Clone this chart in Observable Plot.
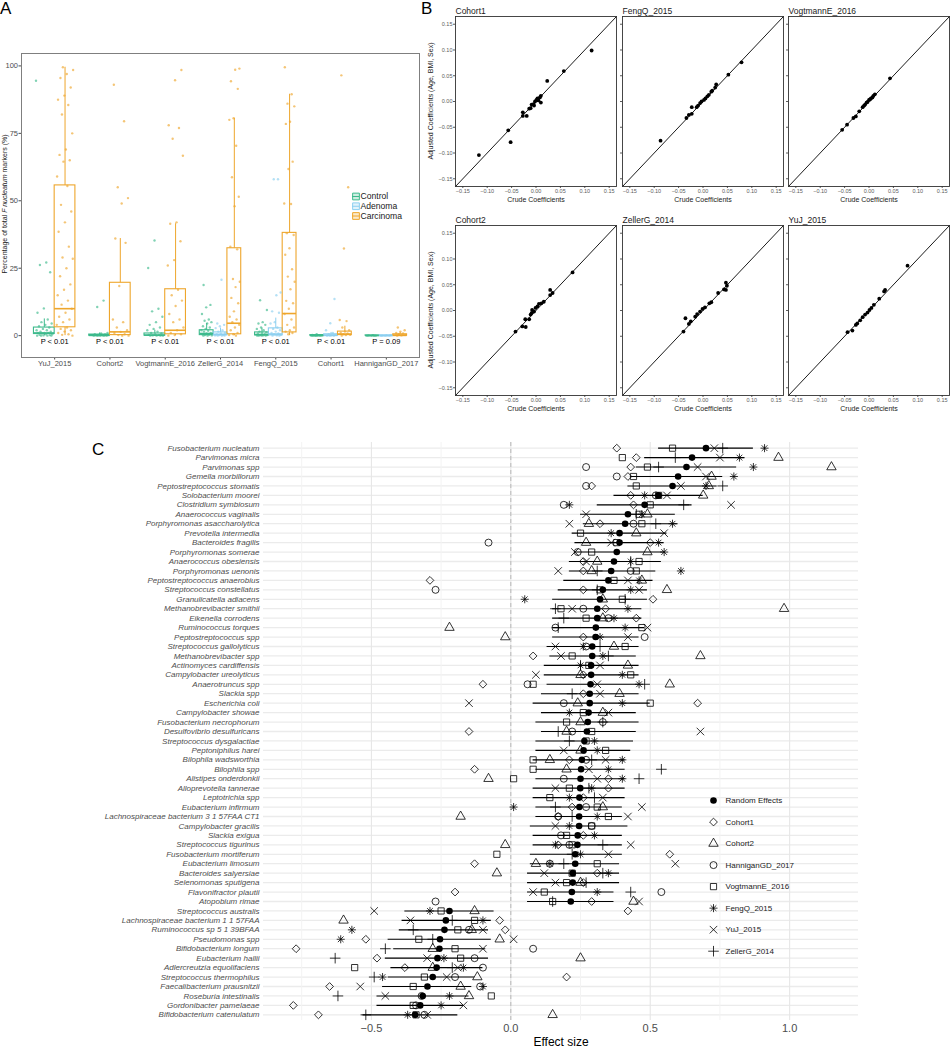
<!DOCTYPE html>
<html><head><meta charset="utf-8">
<script src="https://cdn.jsdelivr.net/npm/d3@7"></script>
<script src="https://cdn.jsdelivr.net/npm/@observablehq/plot@0.6"></script>
<style>
body{margin:0;background:#fff;font-family:"Liberation Sans",Arial,Helvetica,sans-serif;}
#root{position:relative;width:950px;height:1050px;overflow:hidden;background:#fff;}
.tag{position:absolute;font-size:17px;color:#000;line-height:1;}
.vlab{position:absolute;white-space:nowrap;transform:translate(-50%,-50%) rotate(-90deg);color:#1a1a1a;line-height:1;}
.cplot g[aria-label="y-axis tick label"]{font-style:italic;}
</style></head><body><div id="root"></div>
<script>
const FONT = '"Liberation Sans", Arial, Helvetica, sans-serif';
// ---------------- Panel A data ----------------
const studiesA = ["YuJ_2015","Cohort2","VogtmannE_2016","ZellerG_2014","FengQ_2015","Cohort1","HanniganGD_2017"];
const groupsA = ["Control","Adenoma","Carcinoma"];
const groupColors = ["#3dba8c","#8ccff0","#eea62c"];
const pLabels = ["P < 0.01","P < 0.01","P < 0.01","P < 0.01","P < 0.01","P < 0.01","P = 0.09"];
const boxStudy = ["YuJ_2015","YuJ_2015","Cohort2","Cohort2","VogtmannE_2016","VogtmannE_2016",
  "ZellerG_2014","ZellerG_2014","ZellerG_2014","FengQ_2015","FengQ_2015","FengQ_2015",
  "Cohort1","Cohort1","Cohort1","HanniganGD_2017","HanniganGD_2017","HanniganGD_2017"];
const boxGroup = ["Control","Carcinoma","Control","Carcinoma","Control","Carcinoma",
  "Control","Adenoma","Carcinoma","Control","Adenoma","Carcinoma",
  "Control","Adenoma","Carcinoma","Control","Adenoma","Carcinoma"];
const boxQ1 = [0.6,3.1, 0,0.2, 0,0.5, 0.2,0.1,0.5, 0.1,0.1,1.2, 0,0,0.2, 0,0,0];
const boxMedian = [1.0,10.0, 0.1,1.4, 0.2,2.0, 0.8,0.5,4.6, 0.4,0.6,8.2, 0.05,0.1,0.6, 0.02,0.02,0.1];
const boxQ3 = [3.0,55.7, 0.4,19.6, 0.8,17.2, 2.0,1.2,32.4, 1.2,2.7,38.1, 0.2,0.5,1.5, 0.1,0.1,0.5];
const boxLow = [0,0, 0,0, 0,0, 0,0,0, 0,0,0, 0,0,0, 0,0,0];
const boxHigh = [6.2,99.5, 1.0,36, 2.0,41.5, 4.5,2.8,80.6, 2.8,6.5,89.5, 0.5,1.2,3.5, 0.2,0.2,1.2];
const boxPoints = [
  [94.5,27.1,26.2,23.5,10.1,8.5,6,5,4.5,4,3.5,3,2.5,2,2,1.5,1.5,1,1,1,0.8,0.5,0.5,0.3,0.2,0.1,0,0,0,0],
  [99.5,98.5,97,95.5,92,89,87.5,85.5,82,75,69,67,65,64.5,59,55.5,48.5,46,42,38.5,33,29,28.5,25,22,19,17,15,13,11.5,10,8.5,7,6,5,4,3,2.5,2,1.5,1,0.5,0.3,0],
  [13,10.6,1,0.8,0.5,0.4,0.3,0.2,0.1,0.1,0,0,0,0,0],
  [93,79.5,55,51,49,36,34.4,18.4,6,5,3,2,1.4,1,0.5,0.2,0,0],
  [35.3,25.1,10,9,7,5,4,3,2.5,2,1.5,1,0.8,0.5,0.3,0.2,0.1,0,0,0,0],
  [98.5,94.7,78,77,73,66.7,42,41.5,35,28,26,17,15,13,11,8,6,5,3,2,1,0.5,0.2,0],
  [18.8,11.4,10.5,8,6,5.5,5,4.5,3.5,3,2.5,2,1.8,1.5,1,0.8,0.5,0.3,0.2,0.1,0,0],
  [20.7,4.5,4,3.5,2.8,2,1.5,1,0.8,0.5,0.3,0.2,0.1,0,0,0],
  [99,98.6,94.3,91.5,80.6,80,70.4,58.7,51.5,48,33,32,21,20,18,14,12,9,7,6,5,4,3,2,1,0.5,0.2,0],
  [13.1,9.5,5,4.5,4,3,2.5,2,1.5,1.2,1,0.8,0.5,0.3,0.2,0.1,0,0,0,0],
  [58,58,16,15,9,8.5,5,4.5,3,2.5,2,1.5,1,0.8,0.5,0.3,0.1,0,0],
  [99.5,89.5,86,85,79.3,78.5,64.5,61.8,49,48.8,38,37.3,32.4,30,24.6,21.9,20,17.2,12.9,12,10,8,6,4,3,2,1.5,1,0.5],
  [0.5,0.3,0.2,0.1,0.1,0,0,0,0,0],
  [13.6,4.6,2,1,0.5,0.3,0.1,0,0,0],
  [96.5,55,32.3,5.8,5.4,3,2,1.5,1,0.8,0.5,0.3,0.2,0],
  [0.2,0.1,0,0,0,0],
  [0.2,0.1,0,0,0,0],
  [3,2,1.5,1,0.8,0.5,0.3,0.1,0]
];
const yTicksA = [0,25,50,75,100];

// ---------------- Panel B data ----------------
const coefTicks = [-0.15,-0.10,-0.05,0,0.05,0.10,0.15];
const cohort1Crude = [-0.117,-0.057,-0.052,-0.027,-0.027,-0.019,-0.014,-0.011,-0.009,-0.005,-0.004,-0.002,0.001,0.003,0.005,0.008,0.010,0.010,0.023,0.057,0.114];
const cohort1Adj   = [-0.104,-0.056,-0.079,-0.021,-0.028,-0.028,-0.014,-0.013,-0.006,-0.005,-0.008,0.000,0.003,0.006,0.002,0.008,0.011,-0.002,0.040,0.059,0.099];
const fengCrude = [-0.087,-0.034,-0.029,-0.023,-0.023,-0.013,-0.010,-0.006,-0.003,0.002,0.005,0.009,0.012,0.017,0.019,0.025,0.027,0.052,0.079];
const fengAdj   = [-0.076,-0.032,-0.026,-0.024,-0.011,-0.011,-0.008,-0.003,0.000,0.003,0.006,0.010,0.013,0.019,0.021,0.027,0.033,0.052,0.076];
const vogtCrude = [-0.055,-0.045,-0.032,-0.027,-0.020,-0.013,-0.010,-0.008,-0.005,-0.003,0.000,0.002,0.004,0.007,0.009,0.012,0.043];
const vogtAdj   = [-0.055,-0.045,-0.032,-0.029,-0.019,-0.011,-0.008,-0.006,-0.002,-0.001,0.003,0.004,0.006,0.008,0.011,0.014,0.045];
const cohort2Crude = [-0.042,-0.028,-0.021,-0.022,-0.014,-0.011,-0.009,-0.008,-0.004,-0.001,0.003,0.006,0.011,0.016,0.029,0.029,0.034,0.075];
const cohort2Adj   = [-0.041,-0.031,-0.032,-0.017,-0.017,-0.008,-0.005,0.001,-0.002,0.005,0.008,0.013,0.014,0.017,0.040,0.030,0.034,0.074];
const zellerCrude = [-0.040,-0.036,-0.029,-0.025,-0.016,-0.012,-0.006,-0.001,0.004,0.013,0.017,0.031,0.043,0.047,0.047,0.049];
const zellerAdj   = [-0.041,-0.015,-0.026,-0.021,-0.012,-0.007,-0.002,0.003,0.006,0.014,0.016,0.034,0.041,0.054,0.040,0.048];
const yujCrude = [-0.044,-0.034,-0.027,-0.024,-0.018,-0.013,-0.008,-0.003,0.001,0.005,0.010,0.021,0.031,0.033,0.079];
const yujAdj   = [-0.042,-0.039,-0.028,-0.025,-0.019,-0.013,-0.008,-0.004,0.001,0.005,0.011,0.023,0.037,0.040,0.087];

// ---------------- Panel C data ----------------
const species = ["Fusobacterium nucleatum","Parvimonas micra","Parvimonas spp","Gemella morbillorum","Peptostreptococcus stomatis","Solobacterium moorei","Clostridium symbiosum","Anaerococcus vaginalis","Porphyromonas asaccharolytica","Prevotella intermedia","Bacteroides fragilis","Porphyromonas somerae","Anaerococcus obesiensis","Porphyromonas uenonis","Peptostreptococcus anaerobius","Streptococcus constellatus","Granulicatella adiacens","Methanobrevibacter smithii","Eikenella corrodens","Ruminococcus torques","Peptostreptococcus spp","Streptococcus gallolyticus","Methanobrevibacter spp","Actinomyces cardiffensis","Campylobacter ureolyticus","Anaerotruncus spp","Slackia spp","Escherichia coli","Campylobacter showae","Fusobacterium necrophorum","Desulfovibrio desulfuricans","Streptococcus dysgalactiae","Peptoniphilus harei","Bilophila wadsworthia","Bilophila spp","Alistipes onderdonkii","Alloprevotella tannerae","Leptotrichia spp","Eubacterium infirmum","Lachnospiraceae bacterium 3 1 57FAA CT1","Campylobacter gracilis","Slackia exigua","Streptococcus tigurinus","Fusobacterium mortiferum","Eubacterium limosum","Bacteroides salyersiae","Selenomonas sputigena","Flavonifractor plautii","Atopobium rimae","Streptococcus australis","Lachnospiraceae bacterium 1 1 57FAA","Ruminococcus sp 5 1 39BFAA","Pseudomonas spp","Bifidobacterium longum","Eubacterium hallii","Adlercreutzia equolifaciens","Streptococcus thermophilus","Faecalibacterium prausnitzii","Roseburia intestinalis","Gordonibacter pamelaeae","Bifidobacterium catenulatum"];
const reEstimate = [0.70,0.65,0.63,0.60,0.58,0.53,0.48,0.42,0.41,0.39,0.39,0.38,0.37,0.36,0.35,0.33,0.32,0.31,0.31,0.305,0.304,0.292,0.292,0.288,0.288,0.286,0.283,0.283,0.279,0.276,0.273,0.264,0.261,0.255,0.252,0.250,0.249,0.246,0.246,0.245,0.245,0.240,0.239,0.231,0.231,0.222,0.222,0.219,0.215,-0.22,-0.233,-0.238,-0.254,-0.256,-0.263,-0.266,-0.28,-0.299,-0.316,-0.325,-0.343];
const ciLow = [0.53,0.48,0.45,0.43,0.42,0.37,0.31,0.25,0.26,0.22,0.23,0.23,0.21,0.21,0.19,0.17,0.15,0.15,0.15,0.15,0.15,0.13,0.14,0.12,0.12,0.13,0.11,0.08,0.11,0.09,0.11,0.09,0.09,0.08,0.09,0.09,0.08,0.08,0.09,0.09,0.07,0.08,0.08,0.07,0.07,0.06,0.06,0.06,0.06,-0.38,-0.39,-0.40,-0.44,-0.42,-0.45,-0.43,-0.44,-0.46,-0.48,-0.48,-0.53];
const ciHigh = [0.87,0.84,0.81,0.76,0.74,0.69,0.65,0.59,0.60,0.56,0.55,0.55,0.54,0.52,0.51,0.49,0.49,0.47,0.47,0.48,0.46,0.46,0.45,0.46,0.46,0.46,0.46,0.50,0.45,0.46,0.45,0.44,0.43,0.41,0.41,0.41,0.41,0.41,0.40,0.40,0.42,0.40,0.40,0.40,0.39,0.39,0.39,0.37,0.37,-0.06,-0.07,-0.08,-0.07,-0.09,-0.08,-0.10,-0.13,-0.14,-0.15,-0.17,-0.19];
const esCohort1 = [0.38,0.45,0.43,0.42,0.29,0.43,0.44,null,0.32,null, 0.50,null,0.26,0.26,-0.29,0.26,0.51,0.34,0.45,null, 0.26,null,0.08,null,0.26,-0.10,0.26,0.67,null,null, -0.15,null,null,0.21,-0.13,0.35,0.35,0.26,0.22,0.17, null,0.26,0.17,0.57,-0.13,0.31,0.26,-0.20,0.29,0.42, -0.04,-0.02,-0.52,-0.77,-0.48,-0.38,0.20,-0.65,null,-0.78, -0.69];
const esCohort2 = [null,0.96,1.15,0.72,0.71,0.69,null,0.49,0.28,0.45, 0.27,0.49,0.31,0.29,0.47,0.56,0.33,0.98,0.33,-0.22, -0.02,0.37,0.68,0.42,0.25,0.57,0.39,0.24,0.33,0.25, 0.20,null,0.25,0.14,0.20,-0.08,null,null,0.33,-0.18, null,null,-0.02,null,0.09,-0.05,0.25,null,0.44,-0.13, -0.60,-0.14,-0.04,-0.28,0.25,-0.28,-0.12,-0.18,-0.15,null, 0.15];
const esHannigan = [null,null,0.27,0.38,0.27,0.52,0.19,null,0.44,null, -0.08,0.24,null,0.43,null,-0.27,null,0.26,0.35,0.16, 0.48,0.27,null,null,null,0.06,null,0.19,null,0.33, 0.22,null,null,0.27,null,0.19,null,null,0.27,0.17, 0.29,0.18,0.21,null,0.14,null,null,0.54,-0.27,null, null,-0.15,null,0.08,-0.13,-0.10,-0.20,-0.11,-0.32,-0.34, -0.31];
const esVogtmann = [0.58,0.40,0.49,0.44,0.45,0.53,0.50,0.46,0.47,0.25, 0.38,0.29,0.46,0.45,0.37,0.32,0.40,0.18,0.27,0.47, null,0.41,0.22,0.28,0.43,0.08,null,0.50,0.26,0.20, 0.29,0.27,0.34,0.08,0.08,0.01,0.21,0.14,0.31,0.35, 0.29,0.20,0.22,-0.05,0.31,0.22,0.20,0.12,0.15,-0.25, -0.13,-0.19,-0.33,-0.20,-0.18,-0.56,-0.31,-0.35,-0.07,-0.35, -0.34];
const esFengQ = [0.91,0.82,0.87,0.80,0.70,0.48,0.21,0.47,0.58,0.36, 0.53,0.55,0.43,0.61,0.46,0.43,0.05,0.42,0.37,0.41, 0.32,0.26,0.33,0.25,0.40,0.46,null,0.40,0.21,null, null,0.30,0.31,0.40,0.35,0.40,0.29,0.21,0.01,0.31, 0.21,0.30,0.16,0.25,0.14,0.35,null,0.31,null,-0.29, -0.10,-0.57,-0.61,null,-0.24,-0.17,-0.46,-0.10,-0.22,-0.25, -0.37];
const esYuJ = [0.73,0.75,0.67,0.70,0.61,0.56,0.79,0.27,0.21,0.55, 0.36,0.23,0.27,0.17,0.42,0.46,null,0.22,null,0.49, 0.42,0.16,0.18,0.32,0.09,0.31,0.32,-0.15,0.35,null, 0.68,null,0.19,0.34,0.28,0.31,0.16,0.33,0.47,0.42, 0.16,null,0.43,0.35,0.59,0.12,0.16,0.08,0.46,-0.49, -0.36,-0.10,0.01,-0.10,-0.30,-0.19,-0.23,-0.54,-0.45,-0.17, -0.30];
const esZeller = [0.76,0.59,0.53,null,0.76,null,0.62,0.45,0.52,null, null,null,0.43,0.31,null,0.31,0.41,0.16,0.19,0.17, null,0.32,0.35,0.25,null,0.48,0.22,null,null,0.33, 0.17,0.21,null,0.29,0.54,0.46,0.28,0.30,0.16,0.22, null,null,0.33,0.22,0.19,0.33,0.27,0.43,0.15,null, -0.21,-0.35,-0.28,-0.45,-0.63,-0.21,-0.49,null,-0.62,null, -0.52];
const cohortNames = ["Cohort1","Cohort2","HanniganGD_2017","VogtmannE_2016","FengQ_2015","YuJ_2015","ZellerG_2014"];
const cohortValues = [esCohort1, esCohort2, esHannigan, esVogtmann, esFengQ, esYuJ, esZeller];
const reLabel = "Random Effects";
const xMajorC = [-0.5, 0, 0.5, 1.0];
const xMinorC = [-0.75, -0.25, 0.25, 0.75];

// ---------------- helpers ----------------
const root = document.getElementById("root");
function place(el, left, top) {
  el.style.position = "absolute"; el.style.left = left + "px"; el.style.top = top + "px";
  root.appendChild(el);
}
function tag(txt, left, top) {
  const d = document.createElement("div"); d.className = "tag"; d.textContent = txt;
  d.style.left = left + "px"; d.style.top = top + "px"; root.appendChild(d);
}
function vlabel(html, cx, cy, size) {
  const d = document.createElement("div"); d.className = "vlab"; d.innerHTML = html;
  d.style.left = cx + "px"; d.style.top = cy + "px"; d.style.fontSize = size + "px"; root.appendChild(d);
}

// ---------------- Panel A ----------------
const boxes = boxStudy.map((s, i) => {
  const si = studiesA.indexOf(s);
  const members = boxStudy.map((t, j) => j).filter(j => boxStudy[j] === s);
  const k = members.length, j = members.indexOf(i), w = 0.75 / k;
  const cx = si - 0.375 + w * (j + 0.5);
  return {study: s, group: boxGroup[i], cx, w, xa: cx - w / 2, xb: cx + w / 2,
    q1: boxQ1[i], med: boxMedian[i], q3: boxQ3[i], lo: boxLow[i], hi: boxHigh[i]};
});
const ptsA = boxes.flatMap((b, i) => boxPoints[i].map((v, p) => {
  const f = (p * 0.6180339 + i * 0.37) % 1;
  return {group: b.group, v, x: b.cx + (f - 0.5) * b.w * 0.8};
}));
const plotA = Plot.plot({
  width: 425, height: 372, marginLeft: 21, marginRight: 6, marginTop: 53, marginBottom: 15,
  style: {fontFamily: FONT, fontSize: "7.5px", color: "#4d4d4d", background: "transparent"},
  x: {domain: [-0.6, 6.6], ticks: d3.range(studiesA.length), tickFormat: i => studiesA[i], tickSize: 2.5, tickPadding: 1, label: null},
  y: {domain: [-8.1, 104.6], ticks: yTicksA, tickSize: 2.5, tickPadding: 1, label: null},
  color: {domain: groupsA, range: groupColors},
  marks: [
    Plot.ruleX(boxes, {x: "cx", y1: "q3", y2: "hi", stroke: "group", strokeWidth: 1}),
    Plot.ruleX(boxes, {x: "cx", y1: "lo", y2: "q1", stroke: "group", strokeWidth: 1}),
    Plot.rect(boxes, {x1: "xa", x2: "xb", y1: "q1", y2: "q3", stroke: "group", fill: "none", strokeWidth: 1.1}),
    Plot.ruleY(boxes, {y: "med", x1: "xa", x2: "xb", stroke: "group", strokeWidth: 1.6}),
    Plot.dot(ptsA, {x: "x", y: "v", fill: "group", r: 1.2, fillOpacity: 0.65, stroke: null}),
    Plot.text(pLabels, {x: (d, i) => i, text: d => d, frameAnchor: "bottom", dy: -14, fontSize: 7.5, fill: "#000"}),
    Plot.frame({stroke: "#7f7f7f", strokeWidth: 1})
  ]
});
place(plotA, 0, 0);
vlabel('Percentage of total <i>F nucleatum</i> markers (%)', 4, 204, 7);

const legA = Plot.plot({
  width: 70, height: 36, margin: 0,
  style: {fontFamily: FONT, background: "transparent"},
  x: {domain: [0, 70], range: [0, 70], axis: null},
  y: {type: "point", domain: groupsA, range: [7, 26.5], padding: 0, round: false, axis: null},
  color: {domain: groupsA, range: groupColors},
  marks: [
    Plot.dot(groupsA, {x: 6.5, y: d => d, symbol: "square", r: 3.8, stroke: d => d, fill: d => d, fillOpacity: 0.25, strokeWidth: 1}),
    Plot.ruleY(groupsA, {y: d => d, x1: 3, x2: 10, stroke: d => d, strokeWidth: 1}),
    Plot.text(groupsA, {x: 11, y: d => d, text: d => d, textAnchor: "start", fontSize: 8.6, fill: "#1a1a1a"})
  ]
});
place(legA, 349, 189);

// ---------------- Panel B ----------------
const coefLim = [-0.165, 0.165];
const bPanels = [
  {name: "Cohort1", crude: cohort1Crude, adj: cohort1Adj},
  {name: "FengQ_2015", crude: fengCrude, adj: fengAdj},
  {name: "VogtmannE_2016", crude: vogtCrude, adj: vogtAdj},
  {name: "Cohort2", crude: cohort2Crude, adj: cohort2Adj},
  {name: "ZellerG_2014", crude: zellerCrude, adj: zellerAdj},
  {name: "YuJ_2015", crude: yujCrude, adj: yujAdj}
];
const colX = [455, 622, 788], rowY = [16, 225];
const fmt2 = d3.format(".2f");
bPanels.forEach((pn, idx) => {
  const col = idx % 3, row = Math.floor(idx / 3);
  const pts = pn.crude.map((c, i) => ({crude: c, adj: pn.adj[i]}));
  const mL = col === 0 ? 30 : 4;
  const diag = coefLim.map(v => ({v}));
  const p = Plot.plot({
    width: mL + 161 + 2, height: 14 + 170 + 28,
    marginLeft: mL, marginRight: 2, marginTop: 14, marginBottom: 28,
    style: {fontFamily: FONT, fontSize: "5.5px", color: "#5a5a5a", background: "transparent"},
    x: {domain: coefLim, ticks: coefTicks, tickFormat: fmt2, label: null, tickSize: 2, tickPadding: 1},
    y: {domain: coefLim, ticks: coefTicks, tickFormat: col === 0 ? fmt2 : () => "", label: null, tickSize: 2, tickPadding: 1},
    marks: [
      Plot.line(diag, {x: "v", y: "v", stroke: "#000", strokeWidth: 0.9}),
      Plot.dot(pts, {x: "crude", y: "adj", r: 1.9, fill: "#000"}),
      Plot.frame({stroke: "#333", strokeWidth: 0.9}),
      Plot.text([pn.name], {text: d => d, frameAnchor: "top-left", dy: -9, textAnchor: "start", fontSize: 8.5, fill: "#1a1a1a"}),
      Plot.text(["Crude Coefficients"], {text: d => d, frameAnchor: "bottom", dy: 15, fontSize: 7, fill: "#1a1a1a"})
    ]
  });
  place(p, colX[col] - mL, rowY[row] - 14);
  if (col === 0) vlabel("Adjusted Coefficients (Age, BMI, Sex)", 430, rowY[row] + 85, 7);
});

// ---------------- Panel C ----------------
const star8 = {draw(ctx, size) {
  const r = Math.sqrt(size / Math.PI) * 1.15, d = r * Math.SQRT1_2;
  ctx.moveTo(0, -r); ctx.lineTo(0, r); ctx.moveTo(-r, 0); ctx.lineTo(r, 0);
  ctx.moveTo(-d, -d); ctx.lineTo(d, d); ctx.moveTo(-d, d); ctx.lineTo(d, -d);
}};
const cohortSymbols = ["diamond2", "triangle", "circle", "square", star8, "times", "plus"];
const reRows = species.map((s, i) => ({species: s, est: reEstimate[i], lo: ciLow[i], hi: ciHigh[i]}));
const cohortPts = cohortNames.flatMap((c, k) => cohortValues[k].map((v, i) => ({species: species[i], cohort: c, value: v})).filter(d => d.value != null));
const plotC = Plot.plot({
  width: 870, height: 620, marginLeft: 263, marginRight: 12, marginTop: 12, marginBottom: 30,
  className: "cplot",
  style: {fontFamily: FONT, fontSize: "8px", color: "#4d4d4d", background: "transparent"},
  x: {domain: [-0.887, 1.247], label: null},
  y: {type: "point", domain: species, padding: 0.6, round: false, label: null},
  symbol: {domain: cohortNames, range: cohortSymbols},
  marks: [
    Plot.ruleY(species, {y: d => d, stroke: "#ebebeb", strokeWidth: 1.3}),
    Plot.ruleX(xMinorC, {x: d => d, stroke: "#f3f3f3", strokeWidth: 1}),
    Plot.ruleX(xMajorC, {x: d => d, stroke: "#e6e6e6", strokeWidth: 1.1}),
    Plot.ruleX([0], {x: d => d, stroke: "#b8b8b8", strokeDasharray: "4,3", strokeWidth: 1}),
    Plot.ruleY(reRows, {y: "species", x1: "lo", x2: "hi", stroke: "#000", strokeWidth: 1.1}),
    Plot.dot(cohortPts, {x: "value", y: "species", symbol: "cohort", r: 3.5, stroke: "#000", fill: "none", strokeWidth: 0.8}),
    Plot.dot(reRows, {x: "est", y: "species", r: 3.3, fill: "#000", stroke: null}),
    Plot.axisY({tickSize: 0, tickPadding: 4, fontSize: 8, fontStyle: "italic"}),
    Plot.axisX({ticks: xMajorC, tickFormat: d3.format(".1f"), tickSize: 0, tickPadding: 4, fontSize: 11, label: null}),
    Plot.text(["Effect size"], {text: d => d, frameAnchor: "bottom", dy: 25, fontSize: 12, fill: "#000"})
  ]
});
place(plotC, 0, 430);

const legNames = [reLabel].concat(cohortNames);
const legC = Plot.plot({
  width: 150, height: 172, margin: 0,
  style: {fontFamily: FONT, background: "transparent"},
  x: {domain: [0, 150], range: [0, 150], axis: null},
  y: {type: "point", domain: legNames, range: [10, 160.7], padding: 0, round: false, axis: null},
  symbol: {domain: cohortNames, range: cohortSymbols},
  marks: [
    Plot.dot([reLabel], {x: 13, y: d => d, r: 3.3, fill: "#000"}),
    Plot.dot(cohortNames, {x: 13, y: d => d, symbol: d => d, r: 3.5, stroke: "#000", fill: "none", strokeWidth: 0.8}),
    Plot.text(legNames, {x: 25, y: d => d, text: d => d, textAnchor: "start", fontSize: 8, fill: "#1a1a1a"})
  ]
});
place(legC, 700, 790);

tag("A", 0, 0);
tag("B", 421, 0);
tag("C", 92, 441);
</script></body></html>
